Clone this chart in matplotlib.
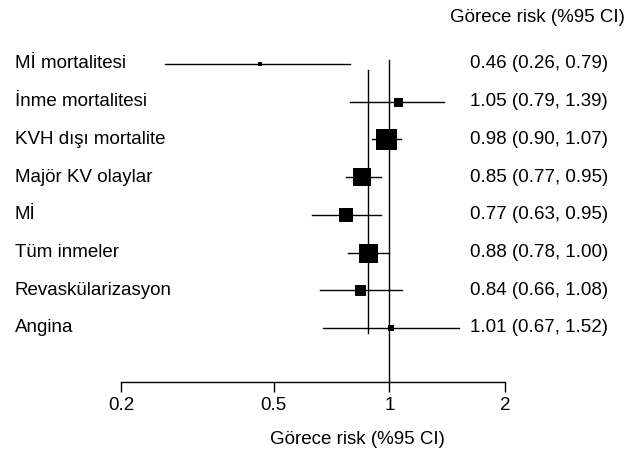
import numpy as np
import matplotlib.pyplot as plt

plt.rcParams['font.family'] = ['Liberation Sans', 'DejaVu Sans']

# forest plot values
labels = ["Mİ mortalitesi", "İnme mortalitesi", "KVH dışı mortalite", "Majör KV olaylar",
          "Mİ", "Tüm inmeler", "Revaskülarizasyon", "Angina"]
rr = [0.46, 1.05, 0.98, 0.85, 0.77, 0.88, 0.84, 1.01]
lo = [0.26, 0.79, 0.90, 0.77, 0.63, 0.78, 0.66, 0.67]
hi = [0.79, 1.39, 1.07, 0.95, 0.95, 1.00, 1.08, 1.52]
box_px = [5, 9, 21, 18, 14, 19, 11, 6]  # box size ~ weight
pooled = 0.88
ticks = [0.2, 0.5, 1, 2]

W, H = 638, 453
fs = 13.5
fig = plt.figure(figsize=(W / 100, H / 100), dpi=100)

# axes placed in pixel terms: 0.2 -> x=121, 2 -> x=505, baseline at y=382
left, right = 121, 505
top, bottom = 50, 382
ax = fig.add_axes([left / W, 1 - bottom / H, (right - left) / W, (bottom - top) / H])
ax.set_xscale('log')
ax.set_xlim(0.2, 2)

row0, step = 64, 37.7
ax.set_ylim((bottom - row0) / step, (top - row0) / step)

ys = np.arange(len(labels))
for y, r, l, h, s in zip(ys, rr, lo, hi, box_px):
    ax.plot([l, h], [y, y], color='black', lw=1)
    ax.plot(r, y, marker='s', color='black', ms=s * 0.72, mew=0)

# reference line at 1 and pooled estimate line
ax.plot([1, 1], [(60 - row0) / step, (bottom - row0) / step], color='black', lw=1)
ax.plot([pooled, pooled], [(70 - row0) / step, (333 - row0) / step], color='black', lw=1)

for sp in ['top', 'right', 'left']:
    ax.spines[sp].set_visible(False)
ax.spines['bottom'].set_linewidth(1)
ax.set_yticks([])
ax.set_xticks(ticks)
ax.set_xticklabels([str(t) for t in ticks])
ax.xaxis.set_minor_locator(plt.NullLocator())
ax.tick_params(axis='x', length=7, width=1, labelsize=fs, pad=4)

for y, lab, r, l, h in zip(ys, labels, rr, lo, hi):
    py = row0 + y * step
    fig.text(15 / W, 1 - py / H, lab, fontsize=fs, va='center', ha='left')
    fig.text(470 / W, 1 - py / H, f"{r:.2f} ({l:.2f}, {h:.2f})", fontsize=fs, va='center', ha='left')

fig.text(450 / W, 1 - 17 / H, "Görece risk (%95 CI)", fontsize=fs, va='center', ha='left')
fig.text(270 / W, 1 - 440 / H, "Görece risk (%95 CI)", fontsize=fs, va='center', ha='left')

fig.savefig("out.png", dpi=100)
